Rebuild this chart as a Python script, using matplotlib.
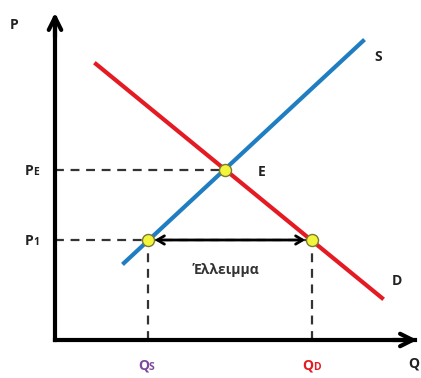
import matplotlib
matplotlib.use("Agg")
import matplotlib.pyplot as plt

# data units: origin at the axis corner, y up
supply_q = [69, 308]
supply_p = [77, 299]
demand_q = [41, 327]
demand_p = [276, 42]

q_e, p_e = 170, 170          # equilibrium E
q_s, q_d, p_1 = 93, 257, 100  # shortage at price P1

RED = "#e41b23"
BLUE = "#1f7dc2"
YELLOW = "#f2f53c"
PURPLE = "#7d4a9e"

fig = plt.figure(figsize=(4.21, 3.78), dpi=100)
ax = fig.add_axes([0, 0, 1, 1])
ax.set_xlim(-55, 366)
ax.set_ylim(-38, 340)
ax.axis("off")

FONT = ["Open Sans", "DejaVu Sans"]

# axes with arrowheads
ax.plot([0, 0], [0, 322], color="black", lw=3, solid_capstyle="projecting", zorder=3)
ax.plot([0, 360], [0, 0], color="black", lw=3, solid_capstyle="projecting", zorder=3)
ax.annotate("", xy=(0, 330), xytext=(0, 300),
            arrowprops=dict(arrowstyle="->,head_length=0.9,head_width=0.45", lw=3, color="black"))
ax.annotate("", xy=(365, 0), xytext=(335, 0),
            arrowprops=dict(arrowstyle="->,head_length=0.9,head_width=0.45", lw=3, color="black"))

# dashed guides
dash = dict(color="#333333", lw=1.6, ls=(0, (4, 3)), zorder=1)
ax.plot([0, q_e], [p_e, p_e], **dash)
ax.plot([0, q_s], [p_1, p_1], **dash)
ax.plot([q_s, q_d], [p_1, p_1], **dash)
ax.plot([q_s, q_s], [0, p_1], **dash)
ax.plot([q_d, q_d], [0, p_1], **dash)

# curves
ax.plot(supply_q, supply_p, color=BLUE, lw=3, zorder=2)
ax.plot(demand_q, demand_p, color=RED, lw=3, zorder=2)

# shortage double arrow
ax.annotate("", xy=(q_d - 4, p_1), xytext=(q_s + 4, p_1),
            arrowprops=dict(arrowstyle="<->,head_length=0.5,head_width=0.3", lw=2, color="black"),
            zorder=4)

# points
ax.scatter([q_e, q_s, q_d], [p_e, p_1, p_1], s=75, color=YELLOW,
           edgecolor="#7a7a30", linewidth=1, zorder=5)

# labels
bold = dict(fontweight="bold", family=FONT)


def sub_label(x, y, main, sub, color):
    ax.text(x, y, main, fontsize=10, ha="right", va="baseline", color=color, **bold)
    ax.text(x, y, sub, fontsize=7.5, ha="left", va="baseline", color=color, **bold)


ax.text(-41, 315, "P", fontsize=10, ha="center", va="center", color="#222222", **bold)
sub_label(-22, p_e - 5, "P", "E", "#222222")
sub_label(-22, p_1 - 5, "P", "1", "#222222")
sub_label(q_s + 1, -30, "Q", "S", PURPLE)
sub_label(q_d + 1, -30, "Q", "D", RED)
ax.text(359, -24, "Q", fontsize=10, ha="center", va="center", color="#222222", **bold)
ax.text(323, 283, "S", fontsize=10, ha="center", va="center", color="#222222", **bold)
ax.text(342, 59, "D", fontsize=10, ha="center", va="center", color="#222222", **bold)
ax.text(207, 168, "E", fontsize=10, ha="center", va="center", color="#222222", **bold)
ax.text(171, 70, "Έλλειμμα", fontsize=10, ha="center", va="center", color="#333333", **bold)

fig.savefig("out.png", dpi=100)
